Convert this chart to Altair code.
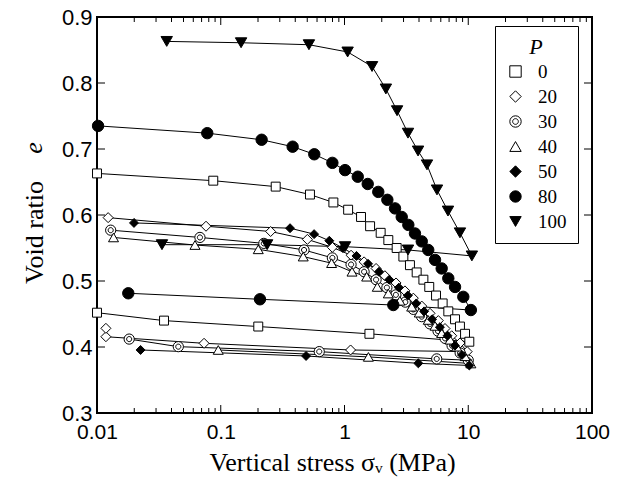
import altair as alt
import pandas as pd

# ---------------- data ----------------
P_LEVELS = ["0", "20", "30", "40", "50", "80", "100"]

P0_LOAD_X = [0.01, 0.087, 0.278, 0.526, 0.813, 1.07, 1.36, 1.61, 1.96, 2.26, 2.64, 2.99, 3.38, 3.83, 4.34, 4.84, 5.49, 6.21, 6.90, 7.82, 8.57, 9.42, 10.2]
P0_LOAD_E = [0.663, 0.652, 0.643, 0.631, 0.619, 0.608, 0.597, 0.583, 0.573, 0.562, 0.550, 0.537, 0.524, 0.513, 0.502, 0.491, 0.478, 0.466, 0.454, 0.442, 0.431, 0.420, 0.408]
P0_UNLOAD_X = [1.59, 0.201, 0.0348, 0.01]
P0_UNLOAD_E = [0.420, 0.431, 0.440, 0.452]

P20_LOAD_X = [0.0123, 0.076, 0.253, 0.501, 0.798, 1.13, 1.44, 1.80, 2.12, 2.61, 3.08, 3.60, 4.21, 4.91, 5.73, 6.49, 7.35, 8.57, 9.8]
P20_LOAD_E = [0.596, 0.583, 0.575, 0.563, 0.551, 0.539, 0.529, 0.519, 0.508, 0.497, 0.485, 0.474, 0.462, 0.451, 0.440, 0.428, 0.417, 0.406, 0.393]
P20_UNLOAD_X = [1.12, 0.0733, 0.0118, 0.0118]
P20_UNLOAD_E = [0.3955, 0.4056, 0.4156, 0.4283]

P30_LOAD_X = [0.0129, 0.0679, 0.223, 0.471, 0.798, 1.13, 1.44, 1.80, 2.2, 2.6, 3.1, 3.6, 4.2, 4.9, 5.7, 6.5, 7.4, 8.6, 10.0]
P30_LOAD_E = [0.577, 0.566, 0.557, 0.547, 0.535, 0.525, 0.514, 0.502, 0.490, 0.479, 0.468, 0.457, 0.446, 0.435, 0.424, 0.413, 0.402, 0.391, 0.380]
P30_UNLOAD_X = [5.56, 0.625, 0.0454, 0.0182]
P30_UNLOAD_E = [0.382, 0.393, 0.4005, 0.412]

P40_LOAD_X = [0.0136, 0.0619, 0.201, 0.464, 0.787, 1.15, 1.51, 1.84, 2.26, 2.8, 3.49, 4.02, 4.75, 5.39, 6.10, 7.13, 8.07, 9.42, 10.5]
P40_LOAD_E = [0.566, 0.5545, 0.548, 0.537, 0.527, 0.514, 0.5065, 0.491, 0.481, 0.470, 0.461, 0.452, 0.441, 0.432, 0.421, 0.411, 0.4005, 0.386, 0.375]
P40_UNLOAD_X = [1.56, 0.0955]
P40_UNLOAD_E = [0.385, 0.3955]

P50_LOAD_X = [0.0199, 0.363, 0.568, 0.754, 0.97, 1.25, 1.55, 1.9, 2.3, 2.75, 3.25, 3.8, 4.4, 5.1, 5.9, 6.8, 7.8, 8.9, 10.2]
P50_LOAD_E = [0.588, 0.580, 0.571, 0.561, 0.550, 0.538, 0.526, 0.514, 0.502, 0.490, 0.478, 0.466, 0.454, 0.442, 0.430, 0.417, 0.402, 0.388, 0.372]
P50_UNLOAD_X = [3.95, 0.489, 0.0225]
P50_UNLOAD_E = [0.3753, 0.3864, 0.3955]

P80_LOAD_X = [0.0102, 0.0778, 0.214, 0.381, 0.570, 0.798, 1.01, 1.28, 1.54, 1.875, 2.22, 2.56, 2.90, 3.28, 3.71, 4.21, 4.75, 5.39, 6.10, 6.90, 7.82, 9.12, 10.5]
P80_LOAD_E = [0.735, 0.724, 0.714, 0.7035, 0.692, 0.679, 0.668, 0.658, 0.647, 0.635, 0.623, 0.610, 0.597, 0.585, 0.572, 0.560, 0.547, 0.532, 0.519, 0.504, 0.491, 0.476, 0.456]
P80_UNLOAD_X = [2.48, 0.2075, 0.0179]
P80_UNLOAD_E = [0.4636, 0.4723, 0.4814]

P100_LOAD_X = [0.0366, 0.146, 0.516, 1.06, 1.67, 2.16, 2.66, 3.26, 3.93, 4.64, 5.59, 6.86, 8.57, 10.7]
P100_LOAD_E = [0.863, 0.861, 0.858, 0.847, 0.825, 0.791, 0.758, 0.724, 0.697, 0.676, 0.638, 0.606, 0.573, 0.538]
P100_UNLOAD_X = [3.26, 1.01, 0.237, 0.0335]
P100_UNLOAD_E = [0.547, 0.552, 0.555, 0.555]

X_LABEL_VALUES = [0.01, 0.1, 1, 10, 100]
X_MAJOR_TICKS = [0.1, 1, 10]
X_MINOR_TICKS = [m * 10.0 ** k for k in range(-2, 2) for m in range(2, 10)]
Y_TICKS = [0.3, 0.4, 0.5, 0.6, 0.7, 0.8, 0.9]
Y_INNER_TICKS = [0.4, 0.5, 0.6, 0.7, 0.8]

X_TITLE = "Vertical stress σᵥ (MPa)"
Y_TITLE = "Void ratio"
Y_TITLE_SYMBOL = "e"
LEGEND_TITLE = "P"

# ---------------- styling ----------------
DOUBLE_CIRCLE = ("M-1,0A1,1 0 1,0 1,0A1,1 0 1,0 -1,0Z"
                 "M-0.5,0A0.5,0.5 0 1,0 0.5,0A0.5,0.5 0 1,0 -0.5,0Z")
SHAPES = ["square", "diamond", DOUBLE_CIRCLE, "triangle-up", "diamond", "circle", "triangle-down"]
FILLS = ["white", "white", "white", "white", "black", "black", "black"]
STROKES = ["black"] * 7
SIZES = [80, 100, 105, 100, 80, 130, 130]

W, H = 495, 396
SANS = "Liberation Sans"
SERIF = "Liberation Serif"

series = {
    "0": (P0_LOAD_X, P0_LOAD_E, P0_UNLOAD_X, P0_UNLOAD_E),
    "20": (P20_LOAD_X, P20_LOAD_E, P20_UNLOAD_X, P20_UNLOAD_E),
    "30": (P30_LOAD_X, P30_LOAD_E, P30_UNLOAD_X, P30_UNLOAD_E),
    "40": (P40_LOAD_X, P40_LOAD_E, P40_UNLOAD_X, P40_UNLOAD_E),
    "50": (P50_LOAD_X, P50_LOAD_E, P50_UNLOAD_X, P50_UNLOAD_E),
    "80": (P80_LOAD_X, P80_LOAD_E, P80_UNLOAD_X, P80_UNLOAD_E),
    "100": (P100_LOAD_X, P100_LOAD_E, P100_UNLOAD_X, P100_UNLOAD_E),
}

pts, lines = [], []
for p, (lx, le, ux, ue) in series.items():
    for i, (x, e) in enumerate(zip(lx, le)):
        pts.append({"P": p, "x": x, "e": e})
        lines.append({"seg": p + "L", "o": i, "x": x, "e": e})
    ulx, ule = [lx[-1]] + list(ux), [le[-1]] + list(ue)
    for i, (x, e) in enumerate(zip(ulx, ule)):
        lines.append({"seg": p + "U", "o": i, "x": x, "e": e})
    for x, e in zip(ux, ue):
        pts.append({"P": p, "x": x, "e": e})

pts_df = pd.DataFrame(pts)
lines_df = pd.DataFrame(lines)

xscale = alt.Scale(type="log", domain=[0.01, 100], nice=False)
yscale = alt.Scale(domain=[0.3, 0.9], nice=False, zero=False)

x_axis = alt.Axis(values=X_LABEL_VALUES, format="~g", ticks=False, domain=False, grid=False,
                  labelFont=SANS, labelFontSize=21, labelColor="black", labelPadding=8,
                  labelFlush=False, labelOverlap=False,
                  titleFont=SERIF, titleFontSize=26, titleFontWeight="normal",
                  titleColor="black", titleX=235, titleY=57, titleBaseline="alphabetic",
                  titleAlign="center")
y_axis = alt.Axis(values=Y_TICKS, format=".1f", ticks=False, domain=False, grid=False,
                  labelFont=SANS, labelFontSize=22, labelColor="black", labelPadding=5,
                  labelFlush=False, labelOverlap=False,
                  titleFont=SERIF, titleFontSize=26, titleFontWeight="normal",
                  titleColor="black", titleAngle=270, titleX=-55, titleY=215,
                  titleBaseline="alphabetic", titleAlign="center")

X_ENC = alt.X("x:Q", scale=xscale, axis=x_axis, title=X_TITLE)
Y_ENC = alt.Y("e:Q", scale=yscale, axis=y_axis, title=Y_TITLE)

line_layer = alt.Chart(lines_df).mark_line(color="black", strokeWidth=1).encode(
    x=X_ENC, y=Y_ENC, detail="seg:N", order="o:Q",
)

legend = alt.Legend(orient="none", legendX=398, legendY=9,
                    titleFont=SERIF, titleFontSize=22, titleFontStyle="italic",
                    titleFontWeight="normal", titleColor="black", titleAnchor="middle",
                    titlePadding=3,
                    labelFont=SERIF, labelFontSize=19, labelColor="black", labelOffset=13,
                    symbolSize=130, symbolStrokeWidth=1,
                    rowPadding=5, padding=11, strokeColor="black", fillColor="white")

SHAPE_ENC = alt.Shape("P:N", scale=alt.Scale(domain=P_LEVELS, range=SHAPES), legend=legend, title=LEGEND_TITLE)
FILL_ENC = alt.Fill("P:N", scale=alt.Scale(domain=P_LEVELS, range=FILLS), legend=legend, title=LEGEND_TITLE)
STROKE_ENC = alt.Stroke("P:N", scale=alt.Scale(domain=P_LEVELS, range=STROKES), legend=legend, title=LEGEND_TITLE)

point_layers = [
    alt.Chart(pts_df).transform_filter(alt.datum.P == p).mark_point(
        filled=True, strokeWidth=1, opacity=1, size=s
    ).encode(x=X_ENC, y=Y_ENC, shape=SHAPE_ENC, fill=FILL_ENC, stroke=STROKE_ENC)
    for p, s in zip(P_LEVELS, SIZES)
]

def xticks(values, y0, y1):
    return alt.Chart(pd.DataFrame({"x": values})).mark_rule(color="black", strokeWidth=1).encode(
        x=X_ENC, y=alt.value(y0), y2=alt.value(y1))

def yticks(values, x0, x1):
    return alt.Chart(pd.DataFrame({"e": values})).mark_rule(color="black", strokeWidth=1).encode(
        y=Y_ENC, x=alt.value(x0), x2=alt.value(x1))

tick_layers = [
    xticks(X_MAJOR_TICKS, H, H - 8), xticks(X_MINOR_TICKS, H, H - 5),
    xticks(X_MAJOR_TICKS, 0, 8), xticks(X_MINOR_TICKS, 0, 5),
    yticks(Y_INNER_TICKS, 0, 8), yticks(Y_INNER_TICKS, W, W - 8),
]

e_label = alt.Chart(pd.DataFrame({"t": [Y_TITLE_SYMBOL]})).mark_text(
    font=SERIF, fontSize=26, fontStyle="italic", angle=270, baseline="alphabetic",
    align="center", color="black").encode(text="t:N", x=alt.value(-55), y=alt.value(131))

chart = alt.layer(line_layer, *tick_layers, *point_layers, e_label).properties(
    width=W, height=H,
    padding={"left": 97, "top": 17, "right": 34, "bottom": 64},
    autosize=alt.AutoSizeParams(type="none"),
    background="white",
).configure_view(stroke="black", strokeWidth=2)

chart.save("out.html", embed_options={"renderer": "svg", "actions": False})
